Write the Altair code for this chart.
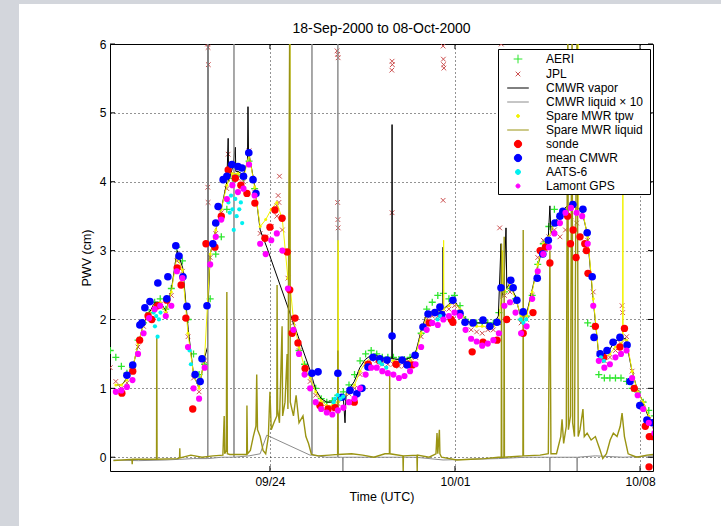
import altair as alt
import pandas as pd

# ---------------- data (days since 18-Sep-2000 00:00 UTC, PWV in cm) ----------------
series_names = ["AERI", "JPL", "CMWR vapor", "CMWR liquid \u00d7 10", "Spare MWR tpw",
                "Spare MWR liquid", "sonde", "mean CMWR", "AATS-6", "Lamont GPS"]
series_colors = ["#2ee62e", "#cc5050", "#000000", "#8c8c8c", "#f2f200",
                 "#9a9412", "#ff0000", "#0000ff", "#00f0f0", "#ff00ff"]

tick_days = [6, 13, 20]
tick_labels = ["09/24", "10/01", "10/08"]
y_ticks = [0, 1, 2, 3, 4, 5, 6]

t_grid = [-0.04, 0.17, 0.38, 0.59, 0.80, 1.01, 1.22, 1.43, 1.64, 1.85, 2.06, 2.27, 2.48, 2.69,
          2.90, 3.11, 3.32, 3.53, 3.74, 3.95, 4.16, 4.37, 4.58, 4.79, 5.00, 5.21, 5.42, 5.63,
          5.84, 6.05, 6.26, 6.47, 6.68, 6.89, 7.10, 7.31, 7.52, 7.73, 7.94, 8.15, 8.36, 8.57,
          8.78, 8.99, 9.20, 9.41, 9.62, 9.83, 10.04, 10.25, 10.46, 10.67, 10.88, 11.09, 11.30,
          11.51, 11.72, 11.93, 12.14, 12.35, 12.56, 12.77, 12.98, 13.19, 13.40, 13.61, 13.82,
          14.03, 14.24, 14.45, 14.66, 14.87, 15.08, 15.29, 15.50, 15.71, 15.92, 16.13, 16.34,
          16.55, 16.76, 16.97, 17.18, 17.39, 17.60, 17.81, 18.02, 18.23, 18.44, 18.65, 18.86,
          19.07, 19.28, 19.49, 19.70, 19.91, 20.12, 20.33, 20.54]

gps_pwv = [None, 0.95, 0.97, 1.02, 1.12, 1.5, 1.8, 2.02, 2.15, 2.2,
           2.05, 2.2, 2.7, 2.6, 1.6, 1.0, 0.85, 1.3, 2.8, 3.2,
           3.45, 3.75, 3.95, 3.85, 3.9, 4.25, 3.8, 3.1, 2.95, 3.15,
           3.25, 3.0, 2.45, 1.85, 1.5, 1.2, 1.0, 0.8, 0.7, 0.65,
           0.62, 0.68, 0.72, 0.8, 0.85, 1.0, 1.2, 1.3, 1.3, 1.25,
           1.22, 1.2, 1.15, 1.18, 1.25, 1.35, 1.6, 1.85, 1.95, 1.92,
           2.0, 2.05, 2.1, 2.05, 1.85, 1.72, 1.68, 1.62, 1.65, 1.7,
           1.8, 2.2, 2.25, 2.1, 1.8, 1.9, 2.3, 2.7, 2.95, 3.05,
           3.25, 3.4, 3.55, 3.62, 3.55, 3.5, 3.1, 2.2, 1.4, 1.3,
           1.35, 1.45, 1.5, 1.55, 1.15, 0.9, 0.7, 0.5, 0.35]

aeri_pwv = [1.55, 1.45, 1.32, 1.22, 1.3, 1.7, 1.95, 2.1, 2.25, 2.3,
            2.15, 2.45, 3.05, 2.85, 2.0, 1.5, 1.2, 1.35, 2.3, 2.95,
            3.2, 3.6, 4.05, 4.1, 4.05, 4.3, 3.9, None, None, None,
            None, None, None, None, 1.55, 1.35, 1.2, 1.0, 0.85, 0.8,
            0.82, 0.9, 0.95, 1.05, 1.2, 1.4, 1.5, 1.55, 1.5, 1.45,
            1.45, 1.45, 1.42, 1.42, 1.45, 1.5, 1.8, 2.15, 2.25, 2.35,
            2.38, 2.3, 2.35, 2.2, 2.0, 1.95, 1.95, 1.95, 1.95, 1.95,
            2.1, 2.4, 2.45, 2.3, 2.0, 2.05, 2.35, 2.8, 3.1, 3.35,
            3.6, None, None, None, None, None, 1.95, 1.9, 1.2, 1.15,
            1.15, 1.15, 1.15, 1.1, 1.0, 0.95, 0.8, 0.68, 0.6]

tpw_pwv = [None, 1.05, 1.05, 1.12, 1.28, 1.65, 1.92, 2.08, 2.2, 2.25,
           2.1, 2.4, 2.92, 2.72, 1.8, 1.2, 1.0, 1.45, 2.95, 3.3,
           3.6, 3.95, 4.12, 4.12, 4.05, 4.4, 3.92, 3.35, 3.45, 3.6,
           3.7, 3.45, 2.6, 2.0, 1.6, 1.3, 1.15, 0.95, 0.82, 0.75,
           0.75, 0.8, 0.88, 0.95, 1.05, 1.25, 1.38, 1.45, 1.45, 1.4,
           1.4, 1.4, 1.38, 1.38, 1.4, 1.48, 1.8, 2.05, 2.1, 2.1,
           2.15, 2.2, 2.25, 2.15, 1.98, 1.92, 1.9, 1.9, 1.9, 1.9,
           2.0, 2.4, 2.5, 2.3, 2.05, 2.05, 2.4, 2.8, 3.1, 3.2,
           3.4, 3.5, 3.6, 3.7, 3.6, 3.6, 3.2, 2.3, 1.5, 1.45,
           1.5, 1.6, 1.65, 1.7, 1.25, 0.95, 0.8, 0.6, 0.45]
tpw_spike_t = [6.74, 6.75, 6.76, 8.57, 8.58, 8.59, 12.56, 12.57, 12.58,
               14.79, 14.80, 14.81, 17.64, 17.65, 17.66, 19.34, 19.35, 19.36]
tpw_spike_v = [2.5, 6.5, 2.5, 0.8, 3.15, 0.8, 2.15, 3.15, 2.15,
               2.45, 3.0, 2.45, 3.6, 6.5, 3.6, 1.7, 5.6, 1.7]

jpl_pwv = [1.3, 1.1, 1.0, 1.08, 1.25, 1.6, 1.9, 2.05, 2.18, 2.22,
           2.08, 2.35, 2.85, 2.7, 1.75, 1.15, 0.95, 1.4, 2.9, 3.25,
           3.55, 3.9, 4.1, 4.05, 4.0, 4.45, 3.85, 3.25, 3.2, 3.35,
           3.5, 3.3, 2.6, 1.95, 1.55, 1.25, 1.1, 0.9, 0.78, 0.72,
           0.72, 0.78, 0.85, 0.92, 1.0, 1.2, 1.35, 1.42, 1.4, 1.35,
           1.35, 1.35, 1.32, 1.33, 1.38, 1.45, 1.75, 2.0, 2.05, 2.05,
           2.1, 2.15, 2.2, 2.1, 1.95, 1.85, 1.82, 1.8, 1.85, 1.85,
           1.95, 2.35, 2.4, 2.25, 1.95, 2.0, 2.35, 2.9, 3.15, 3.2,
           3.3, 3.2, 3.3, 3.5, 3.4, 3.55, 3.15, 2.4, 1.5, 1.4,
           1.45, 1.55, 1.65, 1.75, 1.25, 0.95, 0.78, 0.55, 0.4]
jpl_out_t = [3.64, 3.66, 3.67, 3.65, 3.66, 4.42, 6.36, 6.31, 6.34, 6.26, 8.54, 8.56, 8.58,
             8.56, 8.57, 8.58, 10.62, 10.63, 10.61, 10.62, 12.55, 12.56, 12.57, 12.58, 12.55,
             14.75, 14.69, 19.32, 19.34]
jpl_out_v = [6.0, 5.95, 5.7, 3.92, 3.7, 4.4, 4.08, 3.8, 3.7, 3.65, 5.9, 5.85, 5.8,
             3.7, 3.45, 3.33, 5.75, 5.7, 5.62, 3.55, 5.97, 5.78, 5.7, 5.65, 3.73,
             6.0, 3.33, 2.2, 2.1]

vap_t = [0.18, 0.39, 0.60, 0.81, 1.02, 1.23, 1.44, 1.65, 1.86, 2.07, 2.28, 2.49, 2.70, 2.91,
         3.11, 3.32, 3.53, 3.64, 3.65, 3.66, 3.74, 3.95, 4.16, 4.37, 4.42, 4.44, 4.58, 4.69,
         4.71, 4.79, 5.00, 5.15, 5.17, 5.19, 5.21, 5.42, 5.63, 5.88, 7.52, 7.73, 7.94, 8.15,
         8.36, 8.56, 8.77, 8.84, 8.88, 8.98, 9.19, 9.40, 9.61, 9.82, 10.03, 10.24, 10.45,
         10.61, 10.62, 10.63, 10.66, 10.87, 11.08, 11.29, 11.50, 11.71, 11.92, 12.13, 12.34,
         12.54, 12.55, 12.56, 12.76, 12.97, 13.18, 13.39, 13.60, 13.80, 14.01, 14.22, 14.43,
         14.64, 14.74, 14.75, 14.85, 14.93, 14.96, 15.06, 15.27, 15.48, 15.69, 15.90, 16.11,
         16.32, 16.53, 16.59, 16.63, 16.74, 16.95, 17.16, 17.37, 17.58, 17.79, 18.00, 18.21,
         18.42, 18.63, 18.83, 19.04, 19.25, 19.46, 19.67, 19.88, 20.09, 20.30, 20.51]
vap_v = [1.05, 1.05, 1.15, 1.3, 1.65, 1.95, 2.1, 2.25, 2.25, 2.12, 2.45, 3.0, 2.75, 1.85,
         1.2, 1.0, 1.45, 1.6, 6.5, 2.2, 2.95, 3.3, 3.6, 4.0, 4.63, 4.0, 4.2, 4.5,
         4.15, 4.15, 4.1, 4.3, 5.09, 4.4, 4.4, 3.95, 3.3, 3.05, 1.26, 0.98, 0.85, 0.8,
         0.8, 0.85, 0.9, 0.5, 0.92, 0.98, 1.1, 1.3, 1.42, 1.48, 1.48, 1.43, 1.43,
         1.43, 4.83, 1.43, 1.43, 1.42, 1.42, 1.44, 1.5, 1.82, 2.08, 2.12, 2.12,
         2.15, 3.05, 2.15, 2.22, 2.28, 2.15, 2.0, 1.95, 1.95, 1.95, 1.95, 1.92,
         2.05, 3.1, 2.3, 2.45, 3.33, 2.45, 2.52, 2.35, 2.05, 2.05, 2.4, 2.75,
         3.05, 3.2, 3.65, 3.25, 3.4, 3.5, 3.62, 3.68, 3.62, 3.6, 3.25, 2.35,
         1.55, 1.5, 1.55, 1.68, 1.72, 1.72, 1.3, 1.0, 0.82, 0.6, 0.48]

liq_t = [0.08, 1.02, 2.07, 2.59, 3.11, 3.64, 3.65, 3.66, 4.16, 4.63, 4.64, 4.65, 5.21, 5.63,
         5.88, 7.52, 7.58, 7.59, 7.60, 8.15, 8.56, 8.57, 8.58, 8.75, 8.76, 8.77, 9.40, 10.45,
         11.50, 12.55, 13.60, 14.64, 15.69, 16.58, 16.59, 16.60, 17.61, 17.62, 17.63, 18.31,
         19.36, 20.49]
liq_v = [-0.04, -0.05, -0.04, -0.03, -0.02, -0.02, 7.0, -0.02, 0.0, 0.0, 7.0, 0.0, 0.02, 0.05,
         0.32, 0.03, 0.03, 7.0, 0.03, 0.0, 0.0, 7.0, 0.0, 0.0, -0.2, 0.0, 0.0, 0.0,
         0.0, -0.04, -0.03, -0.02, 0.0, 0.0, -0.2, 0.0, 0.0, -0.2, 0.0, 0.02,
         0.0, 0.02]

spare_liq_t = [0.08, 0.78, 0.79, 0.80, 1.54, 1.71, 1.72, 1.73, 2.49, 2.58, 2.59, 2.60, 3.01,
               3.43, 3.85, 4.22, 4.27, 4.29, 4.35, 4.37, 4.39, 4.48, 4.90, 5.12, 5.13, 5.15,
               5.26, 5.37, 5.47, 5.50, 5.53, 5.63, 5.74, 5.84, 5.94, 6.00, 6.05, 6.15, 6.26,
               6.27, 6.29, 6.36, 6.46, 6.48, 6.57, 6.65, 6.68, 6.75, 6.77, 6.89, 6.99, 7.10,
               7.25, 7.36, 7.46, 7.57, 7.83, 8.25, 8.56, 8.57, 8.58, 9.09, 9.51, 9.93, 10.35,
               10.52, 10.53, 10.54, 11.03, 11.04, 11.05, 11.56, 11.57, 11.58, 12.02, 12.28,
               12.32, 12.35, 12.41, 12.43, 12.49, 13.07, 13.60, 14.12, 14.64, 14.75, 14.76,
               14.77, 14.85, 14.86, 14.87, 15.57, 15.58, 15.59, 16.22, 16.53, 16.59, 16.63,
               16.84, 17.00, 17.05, 17.11, 17.21, 17.27, 17.29, 17.37, 17.43, 17.45, 17.52,
               17.62, 17.66, 17.73, 17.84, 17.89, 18.00, 18.15, 18.31, 18.49, 18.59, 18.73,
               18.87, 18.99, 19.13, 19.25, 19.32, 19.41, 19.55, 19.88, 20.26, 20.49]
spare_liq_v = [-0.05, -0.03, -0.1, -0.03, -0.03, -0.03, 1.73, -0.03, -0.02, -0.01, 0.13, -0.01,
               0.03, 0.0, 0.02, 0.03, 0.6, 0.05, 0.1, 2.4, 0.05, 0.04, 0.04, 0.04, 0.75, 0.05,
               0.1, 0.3, 0.45, 1.2, 0.4, 0.3, 0.1, 0.05, 0.3, 0.95, 0.4, 0.5, 0.6,
               2.5, 0.7, 0.5, 1.9, 0.6, 0.8, 1.5, 0.7, 6.5, 0.8, 0.6, 0.9, 0.5,
               0.6, 0.3, 0.2, 0.04, 0.02, 0.03, 0.04, 1.55, 0.04, 0.05, 0.03, 0.0, 0.05,
               0.05, 1.2, 0.05, 0.02, -0.2, 0.02, 0.03, -0.2, 0.03, 0.0, 0.05,
               0.35, 0.05, 0.4, 0.05, 0.0, -0.04, -0.03, -0.02, 0.0, 0.0, 3.1,
               0.0, 0.0, 3.2, 0.0, 0.02, 3.3, 0.02, 0.03, 0.05, 3.0, 0.05,
               0.05, 0.3, 0.55, 0.2, 0.45, 6.5, 0.4, 0.6, 6.5, 0.5, 0.3,
               6.5, 0.3, 0.4, 0.7, 0.3, 0.35, 0.25, 0.3, 0.1, -0.02, 0.05,
               0.25, 0.35, 0.3, 0.45, 0.64, 0.3, 0.05, 0.0, 0.03, 0.04]

sonde_t = [0.40, 0.81, 1.07, 1.39, 1.53, 1.75, 2.10, 2.49, 2.64, 2.82, 3.08, 3.58, 3.92, 4.16,
           4.42, 4.69, 4.90, 5.13, 5.43, 5.81, 6.00, 6.19, 6.46, 6.65, 6.75, 6.84, 6.95, 7.06,
           7.33, 7.89, 8.20, 8.46, 9.19, 9.72, 10.14, 10.77, 11.19, 11.39, 12.02, 12.86, 12.92,
           13.65, 14.06, 14.59, 14.96, 15.58, 15.95, 16.22, 16.42, 16.59, 17.26, 17.37, 17.47,
           17.58, 17.73, 17.91, 17.97, 18.03, 18.31, 18.63, 19.24, 19.41, 19.78, 20.20, 20.35,
           20.46, 20.34]
sonde_v = [0.93, 1.25, 1.7, 2.05, 2.0, 2.2, 2.28, 2.75, 2.5, 2.02, 0.7, 3.1, 3.05, 3.5,
           4.17, 4.05, 3.95, 3.83, 3.69, 3.18, 3.34, 3.59, 3.47, 2.98, 2.43, 1.8, 2.02, 1.66,
           1.29, 0.75, 0.7, 0.72, 0.8, 1.35, 1.4, 1.35, 1.35, 1.34, 1.95, 2.0, 1.96,
           1.53, 1.67, 1.7, 2.0, 1.8, 2.1, 3.0, 3.05, 2.82, 3.5, 3.1, 3.3,
           2.9, 3.2, 3.1, 3.0, 2.67, 1.9, 1.45, 1.6, 1.87, 1.0, 0.45, 0.3,
           0.3, -0.14]

mean_t = [0.59, 0.81, 1.08, 1.16, 1.27, 1.46, 1.76, 2.10, 2.14, 2.44, 2.56, 2.71, 2.86, 3.17,
          3.36, 3.43, 3.62, 3.84, 3.95, 4.04, 4.23, 4.37, 4.56, 4.79, 4.94, 5.00, 5.20, 5.36,
          5.47, 7.59, 7.82, 8.57, 8.72, 9.03, 9.29, 9.48, 9.71, 9.90, 10.16, 10.43, 10.62,
          11.00, 11.19, 11.49, 11.79, 11.98, 12.24, 12.43, 12.50, 12.92, 13.19, 13.38, 13.68,
          14.06, 14.32, 14.59, 14.74, 15.11, 15.20, 15.34, 15.58, 16.11, 16.32, 16.53, 16.78,
          16.97, 17.08, 17.46, 17.84, 18.00, 18.19, 18.26, 18.49, 18.75, 18.98, 19.24, 19.51,
          19.62, 19.99, 20.26, 20.46]
mean_v = [1.19, 1.34, 1.92, 1.95, 2.17, 2.26, 2.53, 2.3, 2.62, 3.07, 2.92, 2.62, 2.19, 1.2,
          1.1, 1.43, 2.2, 3.1, 3.4, 3.64, 4.03, 4.08, 4.25, 4.22, 4.2, 4.08, 4.42, 4.03,
          3.83, 1.22, 1.24, 1.22, 0.87, 0.97, 0.92, 1.0, 1.31, 1.45, 1.43, 1.41, 1.76,
          1.41, 1.34, 1.48, 1.89, 2.08, 2.1, 2.18, 2.07, 2.28, 2.09, 1.96, 1.95,
          1.99, 1.9, 1.96, 2.46, 2.57, 2.46, 2.28, 2.11, 2.6, 2.95, 3.15, 3.4,
          3.5, 3.57, 3.67, 3.6, 3.26, 2.62, 1.74, 1.5, 1.55, 1.67, 1.74, 1.63,
          1.1, 0.75, 0.54, 0.5]

aats_t = [1.60, 1.65, 1.70, 1.75, 1.80, 1.86, 2.96, 3.01, 4.43, 4.48, 4.53, 4.58, 4.63, 4.69,
          4.74, 4.79, 4.84, 4.90, 4.95, 8.41, 8.46, 8.56, 8.67, 8.77, 10.14, 10.24, 10.40,
          12.34, 12.44, 15.48, 15.59, 15.69, 18.52, 18.63]
aats_v = [2.1, 1.9, 2.05, 1.75, 2.0, 2.1, 1.55, 1.35, 3.7, 3.55, 3.8, 3.6, 3.3, 3.75,
          3.5, 3.85, 3.6, 3.7, 3.4, 0.8, 0.85, 0.9, 0.85, 0.88, 1.38, 1.35, 1.3,
          2.0, 2.05, 2.0, 1.95, 2.0, 1.45, 1.4]

# ---------------- layout & style ----------------
W, H = 543, 427
X_DOMAIN = [-0.05, 20.49]
Y_DOMAIN = [-0.2, 6]
FONT = "Liberation Sans"

label_expr = " : ".join(f"datum.value == {d} ? '{l}'" for d, l in zip(tick_days, tick_labels)) + " : ''"

xs = alt.Scale(domain=X_DOMAIN, nice=False, zero=False)
ys = alt.Scale(domain=Y_DOMAIN, nice=False, zero=False)
common_axis = dict(grid=True, gridDash=[1, 3], gridColor="black", gridOpacity=0.85, gridWidth=1,
                   ticks=False, domain=False, labelFontSize=12, titleFontSize=12.5,
                   labelColor="black", titleColor="black", titleFontWeight="normal",
                   labelFont=FONT, titleFont=FONT)
x_axis = alt.Axis(values=tick_days, labelExpr=label_expr, title="Time (UTC)",
                  labelPadding=5, titlePadding=3, **common_axis)
y_axis = alt.Axis(values=y_ticks, title="PWV (cm)", labelPadding=4, titlePadding=6, **common_axis)


def X(field="t"):
    return alt.X(f"{field}:Q", scale=xs, axis=x_axis)


def Y(field="v"):
    return alt.Y(f"{field}:Q", scale=ys, axis=y_axis)


def frame(t, v):
    return pd.DataFrame({"t": t, "v": v})


col = dict(zip(series_names, series_colors))
PLUS = "M-1,0H1M0,-1V1"
CROSS = "M-1,-1L1,1M-1,1L1,-1"

grid_df = pd.DataFrame({"t": t_grid, "gps": gps_pwv, "aeri": aeri_pwv, "tpw": tpw_pwv, "jpl": jpl_pwv})

aeri = alt.Chart(grid_df).mark_point(shape=PLUS, size=49, strokeWidth=1.3, filled=False, opacity=1,
                                     color=col["AERI"], clip=True).encode(x=X(), y=Y("aeri"))
jpl = alt.Chart(pd.concat([frame(t_grid, jpl_pwv), frame(jpl_out_t, jpl_out_v)])).mark_point(
    shape=CROSS, size=22, strokeWidth=1, filled=False, opacity=1, color=col["JPL"], clip=True
).encode(x=X(), y=Y())
vapor = alt.Chart(frame(vap_t, vap_v)).mark_line(color="black", strokeWidth=1, clip=True).encode(x=X(), y=Y())
liquid = alt.Chart(frame(liq_t, liq_v)).mark_line(color=col["CMWR liquid \u00d7 10"], strokeWidth=1,
                                                  clip=True).encode(x=X(), y=Y())
tpw_line = alt.Chart(pd.concat([frame(t_grid, tpw_pwv), frame(tpw_spike_t, tpw_spike_v)])).mark_line(
    color=col["Spare MWR tpw"], strokeWidth=1, clip=True).encode(x=X(), y=Y())
tpw_pts = alt.Chart(grid_df).mark_circle(size=9, opacity=1, color=col["Spare MWR tpw"],
                                         clip=True).encode(x=X(), y=Y("tpw"))
spare_liq = alt.Chart(frame(spare_liq_t, spare_liq_v)).mark_line(color=col["Spare MWR liquid"],
                                                                  strokeWidth=1.4, clip=True).encode(x=X(), y=Y())
sonde = alt.Chart(frame(sonde_t, sonde_v)).mark_circle(size=54, opacity=1, color=col["sonde"],
                                                       clip=True).encode(x=X(), y=Y())
mean_cmwr = alt.Chart(frame(mean_t, mean_v)).mark_circle(size=58, opacity=1, color=col["mean CMWR"],
                                                         clip=True).encode(x=X(), y=Y())
aats = alt.Chart(frame(aats_t, aats_v)).mark_circle(size=18, opacity=1, color=col["AATS-6"],
                                                    clip=True).encode(x=X(), y=Y())
gps = alt.Chart(grid_df).mark_circle(size=38, opacity=1, color=col["Lamont GPS"],
                                     clip=True).encode(x=X(), y=Y("gps"))

# inward MATLAB-style ticks
xt = pd.DataFrame({"t": tick_days})
yt = pd.DataFrame({"v": y_ticks})
xtick_b = alt.Chart(xt).mark_rule(color="black", strokeWidth=1).encode(x=X(), y=alt.value(H), y2=alt.value(H - 5))
xtick_t = alt.Chart(xt).mark_rule(color="black", strokeWidth=1).encode(x=X(), y=alt.value(0), y2=alt.value(5))
ytick_l = alt.Chart(yt).mark_rule(color="black", strokeWidth=1).encode(y=Y(), x=alt.value(0), x2=alt.value(5))
ytick_r = alt.Chart(yt).mark_rule(color="black", strokeWidth=1).encode(y=Y(), x=alt.value(W), x2=alt.value(W - 5))

# figure frame (grey window border on the left and top)
one = pd.DataFrame({"k": [0]})
GREY = "#d3d6dc"
strip_left = alt.Chart(one).mark_rect(color=GREY, clip=False).encode(
    x=alt.value(-110), x2=alt.value(-91), y=alt.value(-44), y2=alt.value(H + 55))
strip_top = alt.Chart(one).mark_rect(color=GREY, clip=False).encode(
    x=alt.value(-110), x2=alt.value(W + 68), y=alt.value(-44), y2=alt.value(-40))

# legend (built from the series names through the scales)
legend_fill = ["transparent", "transparent", "transparent", "transparent", col["Spare MWR tpw"],
               "transparent", col["sonde"], col["mean CMWR"], col["AATS-6"], col["Lamont GPS"]]


def circ(r):
    return f"M-{r},0A{r},{r},0,1,0,{r},0A{r},{r},0,1,0,-{r},0Z"


LINE = "M-1.44,0H1.44"
legend_shapes = ["M-0.58,0H0.58M0,-0.58V0.58", "M-0.31,-0.31L0.31,0.31M-0.31,0.31L0.31,-0.31",
                 LINE, LINE, circ(0.2), LINE, circ(0.49), circ(0.49), circ(0.33), circ(0.27)]
leg = alt.Legend(orient="none", legendX=388, legendY=5, title="\u2003", titleOrient="right",
                 titleFontSize=12, titlePadding=5, fillColor="white", strokeColor="black",
                 padding=2, symbolOffset=10, symbolSize=225, symbolStrokeWidth=1, labelOffset=20,
                 labelFontSize=12, labelFont=FONT, labelColor="black", rowPadding=0,
                 labelLimit=300)
leg_df = pd.DataFrame({"series": series_names, "t": [None] * 10, "v": [None] * 10})
legend_layer = alt.Chart(leg_df).mark_point(opacity=1, strokeWidth=1, clip=True).encode(
    x=X(), y=Y(),
    fill=alt.Fill("series:N", scale=alt.Scale(domain=series_names, range=legend_fill), legend=leg),
    stroke=alt.Stroke("series:N", scale=alt.Scale(domain=series_names, range=series_colors), legend=leg),
    shape=alt.Shape("series:N", scale=alt.Scale(domain=series_names, range=legend_shapes), legend=leg),
)

chart = alt.layer(
    strip_left, strip_top,
    aeri, jpl, vapor, liquid, tpw_line, tpw_pts, spare_liq, sonde, mean_cmwr, aats, gps,
    xtick_b, xtick_t, ytick_l, ytick_r, legend_layer
).properties(
    width=W, height=H,
    padding={"left": 110, "top": 44, "right": 68, "bottom": 55},
    autosize=alt.AutoSizeParams(type="none"),
    background="white",
    title=alt.TitleParams("18-Sep-2000 to 08-Oct-2000", fontSize=14, font=FONT, fontWeight="normal",
                          color="black", offset=-36, anchor="middle"),
).configure_view(stroke="black", strokeWidth=1, fill="white")

chart.save("out.html", embed_options={"renderer": "svg", "actions": False})
